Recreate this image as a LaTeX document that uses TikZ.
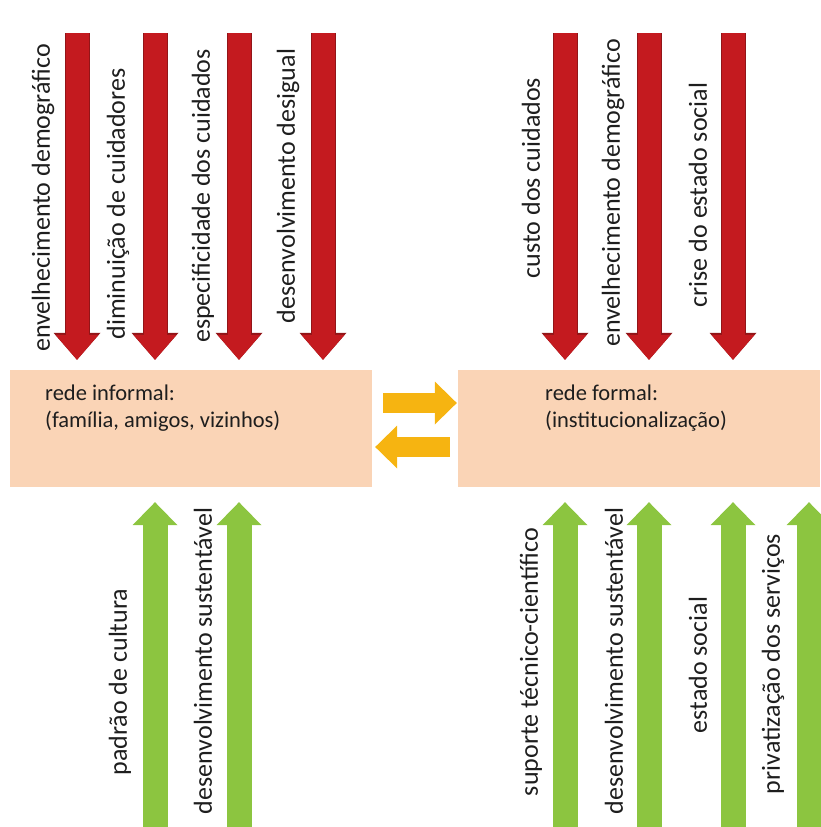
\documentclass[tikz,border=0pt]{standalone}
\usepackage{fontspec}
\setmainfont{Carlito}
\usetikzlibrary{arrows.meta}

\definecolor{boxpeach}{HTML}{FAD4B6}
\definecolor{redfill}{HTML}{C41A1F}
\definecolor{reddark}{HTML}{921518}
\definecolor{greenfill}{HTML}{8CC540}
\definecolor{yellowfill}{HTML}{F6B411}
\definecolor{textgray}{HTML}{1E1E1E}

\begin{document}
\begin{tikzpicture}[x=1pt,y=-1pt,
  netbox/.style={fill=boxpeach, minimum width=362pt, minimum height=117pt, inner sep=0pt},
  nettext/.style={anchor=north west, align=left, inner sep=0pt, text=textgray,
    font=\fontsize{22.5}{27}\selectfont},
  factor/.style={rotate=90, inner sep=0pt, text=textgray, font=\fontsize{26}{30}\selectfont},
  pressure/.style={draw=redfill, line width=23pt, shorten >=10pt,
    -{Triangle[width=43pt,length=25pt,line width=0pt]},
    preaction={draw=reddark, line width=25pt, -{Triangle[width=47pt,length=27pt,line width=0pt]}}},
  support/.style={draw=greenfill, line width=25pt, shorten >=15pt,
    -{Triangle[width=45pt,length=23pt,line width=0pt]}},
  exchange/.style={draw=yellowfill, line width=20pt,
    -{Triangle[width=43pt,length=22pt,line width=0pt]}}]

\useasboundingbox (0,0) rectangle (820,827);

% the two networks
\node [netbox] (informal) at (191,428.5) {};
\node [netbox] (formal) at (639,428.5) {};

\node [nettext] (informaltxt) at (45,385) {rede informal:\\(família, amigos, vizinhos)};
\node [nettext] (formaltxt) at (545,385) {rede formal:\\(institucionalização)};

% exchange between them
\draw [exchange, shorten <=11pt, shorten >=1pt] ([yshift=25.5pt]informal.east) -- ([yshift=25.5pt]formal.west);
\draw [exchange, shorten <=8pt, shorten >=3pt] ([yshift=-18.5pt]formal.west) -- ([yshift=-18.5pt]informal.east);


% pressures, informal side
\coordinate (pi1) at (77,33);
\coordinate (pi2) at (155,33);
\coordinate (pi3) at (239,33);
\coordinate (pi4) at (323,33);

\draw [pressure] (pi1) -- (pi1 |- informal.north);
\draw [pressure] (pi2) -- (pi2 |- informal.north);
\draw [pressure] (pi3) -- (pi3 |- informal.north);
\draw [pressure] (pi4) -- (pi4 |- informal.north);

\node [factor] (envi) at (43,198) {envelhecimento demográfico};
\node [factor] (dimi) at (118,204) {diminuição de cuidadores};
\node [factor] (espi) at (203,196) {especificidade dos cuidados};
\node [factor] (desi) at (288,186) {desenvolvimento desigual};


% pressures, formal side
\coordinate (pf1) at (565,33);
\coordinate (pf2) at (649,33);
\coordinate (pf3) at (733,33);

\draw [pressure] (pf1) -- (pf1 |- formal.north);
\draw [pressure] (pf2) -- (pf2 |- formal.north);
\draw [pressure] (pf3) -- (pf3 |- formal.north);

\node [factor] (cusf) at (531,178) {custo dos cuidados};
\node [factor] (envf) at (613,193) {envelhecimento demográfico};
\node [factor] (crif) at (698,195) {crise do estado social};


% supports, informal side
\coordinate (si1) at (155,827);
\coordinate (si2) at (239,827);

\draw [support] (si1) -- (si1 |- informal.south);
\draw [support] (si2) -- (si2 |- informal.south);

\node [factor] (padi) at (120,682) {padrão de cultura};
\node [factor] (susi) at (203,661) {desenvolvimento sustentável};


% supports, formal side
\coordinate (sf1) at (565,827);
\coordinate (sf2) at (649,827);
\coordinate (sf3) at (733,827);
\coordinate (sf4) at (809,827);

\draw [support] (sf1) -- (sf1 |- formal.south);
\draw [support] (sf2) -- (sf2 |- formal.south);
\draw [support] (sf3) -- (sf3 |- formal.south);
\draw [support] (sf4) -- (sf4 |- formal.south);

\node [factor] (supf) at (531,662) {suporte técnico-científico};
\node [factor] (susf) at (614,661) {desenvolvimento sustentável};
\node [factor] (estf) at (698,665) {estado social};
\node [factor] (prif) at (773,664) {privatização dos serviços};

\end{tikzpicture}
\end{document}
